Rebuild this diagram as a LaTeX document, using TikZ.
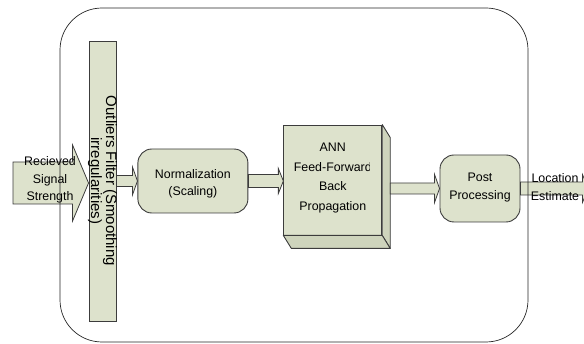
\documentclass[tikz,border=0pt]{standalone}
\usepackage{fontspec}
\setmainfont{Liberation Sans}
\usetikzlibrary{positioning,calc}

\definecolor{stagefill}{RGB}{221,226,204}
\definecolor{stagedark}{RGB}{206,212,188}
\definecolor{stageline}{RGB}{60,60,60}

% horizontal block arrow: tail, tip, half shaft, half head, head length
\newcommand{\blockarrow}[5]{%
  \draw[arrowbody] ($(#1)+(0,#3)$) -- ($(#2)+(-#5,#3)$) -- ($(#2)+(-#5,#4)$) -- (#2)
    -- ($(#2)+(-#5,-#4)$) -- ($(#2)+(-#5,-#3)$) -- ($(#1)+(0,-#3)$) -- cycle;}

\begin{document}
\begin{tikzpicture}[
    x=1pt, y=-1pt,
    stagebox/.style={rectangle, draw=stageline, fill=stagefill, line width=0.9pt, inner sep=0pt},
    roundbox/.style={stagebox, rounded corners=14pt},
    face/.style={draw=stageline, fill=stagedark, line width=0.9pt, line join=round},
    steptext/.style={font=\fontsize{12.4}{17.5}\selectfont, align=center, inner sep=0pt},
    arrowbody/.style={draw=stageline, fill=stagefill, line width=0.8pt, line join=miter}
]
\useasboundingbox (0,0) rectangle (584,344);
\clip (0,0) rectangle (584,344);

% === Processing stages ===
\node[stagebox, minimum width=27pt, minimum height=280pt] (filter) at (102.5,181) {};
\node[rotate=-90, font=\fontsize{15}{15}\selectfont, align=center, inner sep=0pt] (filter-text) at (filter.center)
    {Outliers Filter (Smoothing\\irregularities)};

\node[roundbox, minimum width=110pt, minimum height=64pt, right=21pt of filter] (norm) {};
\node[steptext] (norm-text) at ($(norm.center)+(0,3)$) {Normalization\\(Scaling)};

% ANN drawn as a 3-D box
\node[stagebox, minimum width=98pt, minimum height=110pt, right=35pt of norm.east, anchor=west, yshift=1pt] (ann) {};
\draw[face] (ann.north east) -- ++(8,13) -- ($(ann.south east)+(8,13)$) -- (ann.south east) -- cycle;
\draw[face] (ann.south west) -- ++(8,13) -- ($(ann.south east)+(8,13)$) -- (ann.south east) -- cycle;
\begin{scope}
    \clip (ann.north west) rectangle ($(ann.south east)+(-13,0)$);
    \node[steptext, font=\fontsize{12.4}{19.5}\selectfont] (ann-text) at ($(ann.center)+(0,-2)$)
        {ANN\\Feed-Forward\\Back\\Propagation};
\end{scope}

\node[roundbox, minimum width=80pt, minimum height=67pt] (post) at (480,188.5) {};
\node[steptext] (post-text) at ($(post.center)+(0,-1)$) {Post\\Processing};

% === Block arrows between the stages ===
\coordinate (rss-tail) at (13,183);
\coordinate (rss-tip) at (filter.west |- rss-tail);
\blockarrow{rss-tail}{rss-tip}{21}{38}{16}
\node[steptext] (rss-text) at (50,180) {Recieved\\Signal\\Strength};

\coordinate (fn-tail) at (filter.east |- norm.west);
\blockarrow{fn-tail}{norm.west}{5.5}{14}{5}

\coordinate (na-tip) at (ann.west |- norm.east);
\blockarrow{norm.east}{na-tip}{6.5}{12.5}{5}

\coordinate (ap-tail) at ($(ann.east |- post.west)+(8,0)$);
\blockarrow{ap-tail}{post.west}{5.5}{14}{5}

\coordinate (out-tip) at ($(post.east)+(68,0)$);
\blockarrow{post.east}{out-tip}{6.5}{14}{6}
\node[steptext] (out-text) at (555,187) {Location\\Estimate};

% === Enclosing frame ===
\node[draw=black!85, line width=0.7pt, rounded corners=42pt, minimum width=468pt, minimum height=334pt] (frame) at (294,175) {};

\end{tikzpicture}
\end{document}
